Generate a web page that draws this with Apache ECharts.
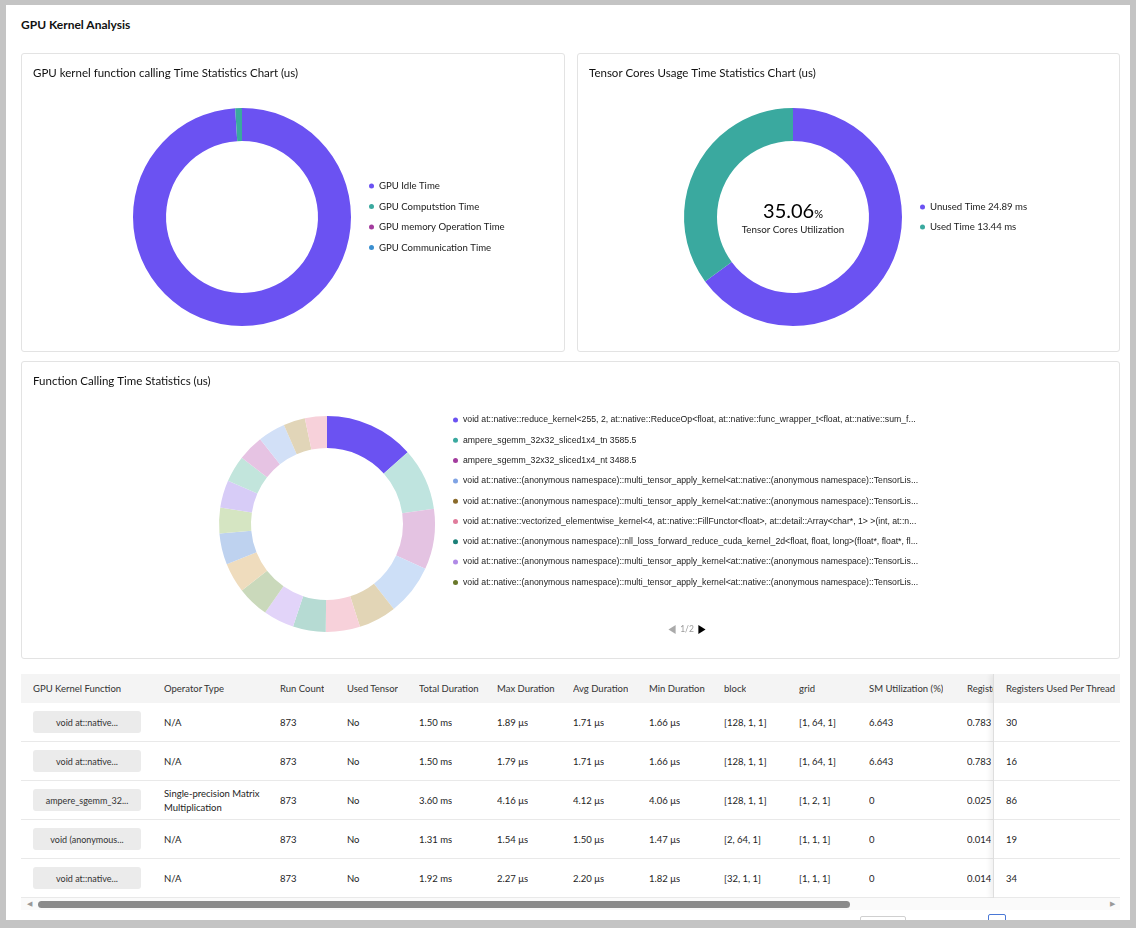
<!DOCTYPE html>
<html>
<head>
<meta charset="utf-8">
<title>GPU Kernel Analysis</title>
<script src="https://cdn.jsdelivr.net/npm/echarts/dist/echarts.min.js"></script>
<style>
  html, body { margin: 0; padding: 0; }
  body { width: 1136px; height: 928px; background: #c4c4c4; font-family: Lato, "Noto Sans", sans-serif; overflow: hidden; position: relative; }
  #page { position: absolute; left: 6px; top: 5px; width: 1124px; height: 915px; background: #fff; overflow: hidden; }
  .heading { position: absolute; left: 15px; top: 12px; font-size: 12px; font-weight: bold; color: #111; }
  .card { position: absolute; border: 1px solid #e3e3e3; border-radius: 3px; background: #fff; }
  .chart { position: absolute; left: 0; top: 0; width: 100%; height: 100%; }
  #table { position: absolute; left: 15px; top: 669px; width: 1099px; height: 240px; overflow: hidden; }
  .thead { position: absolute; left: 0; top: 0; width: 100%; height: 29px; background: #f4f4f4; }
  .rowline { position: absolute; left: 0; width: 100%; height: 1px; background: #e9e9e9; }
  .cell { position: absolute; display: flex; align-items: center; font-size: 9.5px; color: #1d1d1d; line-height: 14px; white-space: nowrap; overflow: hidden; }
  .th { color: #333; }
  .wrap { white-space: normal; }
  .btn { position: absolute; left: 12px; width: 108px; height: 22px; background: #ebebeb; border-radius: 3px; font-size: 9px; color: #333; display: flex; align-items: center; justify-content: center; }
  #sticky { position: absolute; left: 972px; top: 0; width: 127px; height: 224px; background: #fff; border-left: 1px solid #dedede; box-shadow: -3px 0 5px rgba(0,0,0,0.06); }
  #scroll { position: absolute; left: 0; top: 224px; width: 100%; height: 12px; background: #fafafa; }
  #thumb { position: absolute; left: 17px; top: 3px; width: 812px; height: 7px; border-radius: 4px; background: #8b8b8b; }
  .arrow { position: absolute; top: 1px; font-size: 7px; color: #999; }
  .pg { position: absolute; border: 1px solid #d0d0d0; border-radius: 2px; background: #fff; }
</style>
</head>
<body>
<div id="page">
  <div class="heading">GPU Kernel Analysis</div>
  <div class="card" style="left:15px;top:48px;width:542px;height:297px;"><div id="c1" class="chart"></div></div>
  <div class="card" style="left:571px;top:48px;width:541px;height:297px;"><div id="c2" class="chart"></div></div>
  <div class="card" style="left:15px;top:356px;width:1097px;height:296px;"><div id="c3" class="chart"></div></div>
  <div id="table"></div>
  <div class="pg" style="left:854px;top:911px;width:44px;height:20px;"></div>
  <div class="pg" style="left:982px;top:909px;width:16px;height:20px;border-color:#4a78d6;"></div>
</div>
<script>
// ---- GPU time split (us)
const gpuTimeNames = ['GPU Idle Time', 'GPU Computstion Time', 'GPU memory Operation Time', 'GPU Communication Time'];
const gpuTimeValues = [37950, 383, 0, 0];

// ---- tensor core usage (ms)
const tensorNames = ['Unused Time', 'Used Time'];
const tensorValues = [24.89, 13.44];

// ---- per-kernel calling time (us)
const fnNames = [
  'void at::native::reduce_kernel<255, 2, at::native::ReduceOp<float, at::native::func_wrapper_t<float, at::native::sum_functor<float, float, float>::operator()(at::TensorIterator&)::{lambda(float, float)#1}>, unsigned int, float, 4> >',
  'ampere_sgemm_32x32_sliced1x4_tn',
  'ampere_sgemm_32x32_sliced1x4_nt',
  'void at::native::(anonymous namespace)::multi_tensor_apply_kernel<at::native::(anonymous namespace)::TensorListScalarListMetadata<float, 1>, at::native::(anonymous namespace)::BinaryOpScalarListFunctor<float, 1, 1, 0>, std::multiplies<float> >',
  'void at::native::(anonymous namespace)::multi_tensor_apply_kernel<at::native::(anonymous namespace)::TensorListScalarListMetadata<float, 2>, at::native::(anonymous namespace)::PointwiseOpScalarListFunctor<float, 2, 2, 0>, std::multiplies<float> >',
  'void at::native::vectorized_elementwise_kernel<4, at::native::FillFunctor<float>, at::detail::Array<char*, 1> >(int, at::native::FillFunctor<float>, at::detail::Array<char*, 1>)',
  'void at::native::(anonymous namespace)::nll_loss_forward_reduce_cuda_kernel_2d<float, float, long>(float*, float*, float const*, long const*, float const*, bool, long, long, long, long)',
  'void at::native::(anonymous namespace)::multi_tensor_apply_kernel<at::native::(anonymous namespace)::TensorListMetadata<3>, at::native::(anonymous namespace)::PointwiseOpScalarFunctor<float, 3, 3, 0>, std::multiplies<float> >',
  'void at::native::(anonymous namespace)::multi_tensor_apply_kernel<at::native::(anonymous namespace)::TensorListMetadata<4>, at::native::(anonymous namespace)::PointwiseOpScalarFunctor<float, 4, 4, 0>, std::plus<float> >',
  'void at::native::vectorized_elementwise_kernel<4, at::native::CUDAFunctor_add<float>, at::detail::Array<char*, 3> >(int, at::native::CUDAFunctor_add<float>, at::detail::Array<char*, 3>)',
  'void at::native::vectorized_elementwise_kernel<4, at::native::threshold_kernel_impl<float>, at::detail::Array<char*, 3> >',
  'void at::native::(anonymous namespace)::cunn_SoftMaxForward<4, float, float, float, at::native::(anonymous namespace)::LogSoftMaxForwardEpilogue>(float*, float const*, int)',
  'void at::native::(anonymous namespace)::cunn_SoftMaxBackward<4, float, float, float, at::native::(anonymous namespace)::LogSoftMaxBackwardEpilogue>(float*, float const*, float const*, int)',
  'void at::native::unrolled_elementwise_kernel<at::native::direct_copy_kernel_cuda(at::TensorIteratorBase&)::{lambda(float)#1}, at::detail::Array<char*, 2> >',
  'void at::native::(anonymous namespace)::nll_loss_backward_reduce_cuda_kernel_2d<float, long>(float*, float const*, long const*, float const*, float const*, bool, int, int, long, long)',
  'ampere_sgemm_32x128_nn',
  'void splitKreduce_kernel<32, 16, int, float, float, float, float, true, false, false>(cublasSplitKParams<float>, float const*, float const*, float*)',
  'void at::native::vectorized_elementwise_kernel<4, at::native::BinaryFunctor<float, float, float, at::native::binary_internal::MulFunctor<float> >, at::detail::Array<char*, 3> >'
];
const fnValues = [5160, 3585.5, 3488.5, 2915, 2180, 1970, 1885, 1775, 1830, 1715, 1800, 1470, 1585, 1530, 1480, 1575, 1245, 1265];

// ---- kernel table
const tableHeaders = ['GPU Kernel Function', 'Operator Type', 'Run Count', 'Used Tensor', 'Total Duration', 'Max Duration',
  'Avg Duration', 'Min Duration', 'block', 'grid', 'SM Utilization (%)', 'Registers Per Block', 'Registers Used Per Thread'];
const kernelShort = ['void at::native...', 'void at::native...', 'ampere_sgemm_32...', 'void (anonymous...', 'void at::native...'];
const operatorType = ['N/A', 'N/A', 'Single-precision Matrix Multiplication', 'N/A', 'N/A'];
const runCount = [873, 873, 873, 873, 873];
const usedTensor = ['No', 'No', 'No', 'No', 'No'];
const totalDuration = ['1.50 ms', '1.50 ms', '3.60 ms', '1.31 ms', '1.92 ms'];
const maxDuration = ['1.89 μs', '1.79 μs', '4.16 μs', '1.54 μs', '2.27 μs'];
const avgDuration = ['1.71 μs', '1.71 μs', '4.12 μs', '1.50 μs', '2.20 μs'];
const minDuration = ['1.66 μs', '1.66 μs', '4.06 μs', '1.47 μs', '1.82 μs'];
const blockDim = ['[128, 1, 1]', '[128, 1, 1]', '[128, 1, 1]', '[2, 64, 1]', '[32, 1, 1]'];
const gridDim = ['[1, 64, 1]', '[1, 64, 1]', '[1, 2, 1]', '[1, 1, 1]', '[1, 1, 1]'];
const smUtil = ['6.643', '6.643', '0', '0', '0'];
const regsPerBlock = ['0.783', '0.783', '0.025', '0.014', '0.014'];
const regsPerThread = [30, 16, 86, 19, 34];

// layout / colours
const FONT = 'Lato, "Noto Sans", sans-serif';
const PURPLE = '#6b52f2', TEAL = '#3aa99f';
const gpuColors = [PURPLE, TEAL, '#a33c9e', '#3a8fd0'];
const fnSliceColors = ['#6b52f2', '#bfe4df', '#e4c3e2', '#cddff7', '#e2d5b6', '#f7d1da', '#b6dbd3', '#e2d4f9', '#cad9bb',
  '#efdcbd', '#bed2ef', '#d5e5c2', '#d7ccf7', '#c2e5dc', '#e6c3e3', '#d2e0f7', '#e1d5b8', '#f7d1da'];
const fnLegendColors = ['#6b52f2', '#3aa99f', '#a33c9e', '#7fa3e4', '#8a6a2a', '#e07c9c', '#1b8078', '#b08ae6', '#69782a',
  '#e0a050', '#4f7fd0', '#8ab060', '#8a6cf0', '#40b09a', '#b050a8', '#80a6e8', '#9a7a34', '#e07c9c'];

function cardTitle(text) {
  return { text: text, left: 6, top: 8, textStyle: { fontFamily: FONT, fontSize: 11.5, fontWeight: 'normal', color: '#111' } };
}

// chart 1
const chart1 = echarts.init(document.getElementById('c1'));
chart1.setOption({
  animation: false,
  title: cardTitle('GPU kernel function calling Time Statistics Chart (us)'),
  legend: {
    orient: 'vertical', left: 342, top: 120, icon: 'circle', itemWidth: 5, itemHeight: 5, itemGap: 6.5,
    textStyle: { fontFamily: FONT, fontSize: 9.6, lineHeight: 14, color: '#1a1a1a' }
  },
  series: [{
    type: 'pie', center: [220, 163], radius: [76, 109], startAngle: 90,
    label: { show: false }, labelLine: { show: false }, emphasis: { disabled: true },
    itemStyle: { borderWidth: 0 },
    data: gpuTimeNames.map((n, i) => ({ name: n, value: gpuTimeValues[i], itemStyle: { color: gpuColors[i] } }))
  }]
});

// chart 2
const usedPct = (tensorValues[1] / (tensorValues[0] + tensorValues[1]) * 100).toFixed(2);
const chart2 = echarts.init(document.getElementById('c2'));
chart2.setOption({
  animation: false,
  title: cardTitle('Tensor Cores Usage Time Statistics Chart (us)'),
  legend: {
    orient: 'vertical', left: 337, top: 141, icon: 'circle', itemWidth: 5, itemHeight: 5, itemGap: 6,
    formatter: name => name + ' ' + tensorValues[tensorNames.indexOf(name)] + ' ms',
    textStyle: { fontFamily: FONT, fontSize: 9.6, lineHeight: 14, color: '#1a1a1a' }
  },
  graphic: [
    { type: 'text', x: 215, y: 158, style: { text: '{a|' + usedPct + '}{b|%}', rich: {
        a: { fontFamily: FONT, fontSize: 20, color: '#111' }, b: { fontFamily: FONT, fontSize: 11, color: '#111', padding: [5, 0, 0, 0] } },
      align: 'center', verticalAlign: 'middle' } },
    { type: 'text', x: 215, y: 176, style: { text: 'Tensor Cores Utilization', fontFamily: FONT, fontSize: 9.8, fill: '#1a1a1a',
      align: 'center', verticalAlign: 'middle' } }
  ],
  series: [{
    type: 'pie', center: [215, 163], radius: [76, 109], startAngle: 90,
    label: { show: false }, labelLine: { show: false }, emphasis: { disabled: true },
    itemStyle: { borderWidth: 0 },
    data: tensorNames.map((n, i) => ({ name: n, value: tensorValues[i], itemStyle: { color: [PURPLE, TEAL][i] } }))
  }]
});

// chart 3
const chart3 = echarts.init(document.getElementById('c3'));
chart3.setOption({
  animation: false,
  title: cardTitle('Function Calling Time Statistics (us)'),
  legend: {
    type: 'scroll', orient: 'vertical', left: 426, top: 46, height: 221, icon: 'circle', itemWidth: 5, itemHeight: 5, itemGap: 6.3,
    data: fnNames.map((n, i) => ({ name: n, itemStyle: { color: fnLegendColors[i] } })),
    formatter: name => name + ' ' + fnValues[fnNames.indexOf(name)],
    textStyle: { fontFamily: '"Liberation Sans", Arial, sans-serif', fontSize: 8.7, lineHeight: 14, color: '#222',
      width: 458, overflow: 'truncate', ellipsis: '...' },
    pageButtonGap: 29, pageButtonItemGap: 1, pageIconSize: [8, 9], pageIconColor: '#000', pageIconInactiveColor: '#aaa',
    pageIcons: { vertical: ['path://M8,0L0,5L8,10Z', 'path://M0,0L8,5L0,10Z'] },
    pageTextStyle: { color: '#999', fontSize: 8.5, fontFamily: FONT }
  },
  series: [{
    type: 'pie', center: [305, 162], radius: [76, 108], startAngle: 90,
    label: { show: false }, labelLine: { show: false }, emphasis: { disabled: true },
    itemStyle: { borderWidth: 0 },
    data: fnNames.map((n, i) => ({ name: n, value: fnValues[i], itemStyle: { color: fnSliceColors[i] } }))
  }]
});

// ---- table (plain HTML)
const colX = [12, 143, 259, 326, 398, 476, 552, 628, 703, 778, 848, 946, 984];
const HEAD_H = 29, ROW_H = 39;
const columns = [null, operatorType, runCount, usedTensor, totalDuration, maxDuration, avgDuration, minDuration,
  blockDim, gridDim, smUtil, regsPerBlock];
let html = '<div class="thead"></div>';
for (let i = 0; i < 12; i++) {
  html += `<div class="cell th" style="left:${colX[i]}px;top:0;height:${HEAD_H}px;">${tableHeaders[i]}</div>`;
}
for (let r = 0; r < kernelShort.length; r++) {
  const top = HEAD_H + r * ROW_H;
  html += `<div class="rowline" style="top:${top + ROW_H - 1}px"></div>`;
  html += `<div class="btn" style="top:${top + 8}px">${kernelShort[r]}</div>`;
  for (let c = 1; c < columns.length; c++) {
    const wrap = c === 1 ? ' wrap' : '';
    const w = c === 1 ? 'width:108px;' : '';
    html += `<div class="cell${wrap}" style="left:${colX[c]}px;top:${top}px;height:${ROW_H}px;${w}">${columns[c][r]}</div>`;
  }
}
// sticky right column
html += '<div id="sticky"><div class="thead"></div>';
html += `<div class="cell th" style="left:12px;top:0;height:${HEAD_H}px;">${tableHeaders[12]}</div>`;
for (let r = 0; r < regsPerThread.length; r++) {
  const top = HEAD_H + r * ROW_H;
  html += `<div class="rowline" style="top:${top + ROW_H - 1}px"></div>`;
  html += `<div class="cell" style="left:12px;top:${top}px;height:${ROW_H}px;">${regsPerThread[r]}</div>`;
}
html += '</div>';
html += '<div id="scroll"><span class="arrow" style="left:6px">&#9664;</span><div id="thumb"></div><span class="arrow" style="left:1089px">&#9654;</span></div>';
document.getElementById('table').innerHTML = html;
</script>
</body>
</html>
